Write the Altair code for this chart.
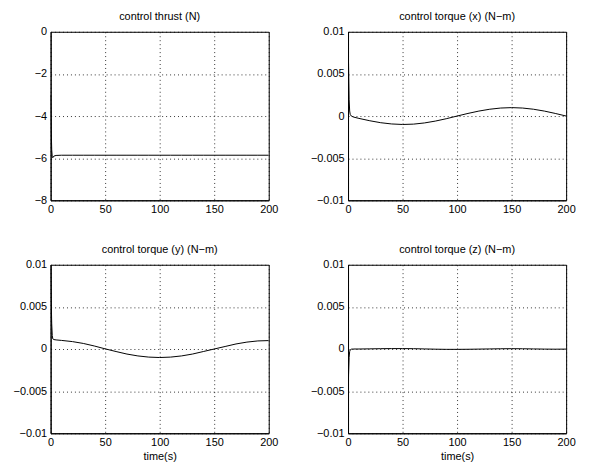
import altair as alt
import pandas as pd

t = [0, 0.5, 1, 1.5, 2, 3, 5, 10, 20, 30, 40, 50, 60, 70, 80, 90, 100,
     110, 120, 130, 140, 150, 160, 170, 180, 190, 200]

thrust = [-3.0, -4.6, -5.6, -5.95, -5.98, -5.9, -5.87, -5.86] + [-5.86] * 19

torque_x = [0.0100, 0.0060, 0.0020, 0.0006, 0.0002, 0.0000, -0.00012, -0.00028,
            -0.00056, -0.00079, -0.00094, -0.00100, -0.00096, -0.00082, -0.00060,
            -0.00032, 0.00000, 0.00031, 0.00059, 0.00081, 0.00095, 0.00100,
            0.00095, 0.00081, 0.00059, 0.00031, 0.00000]

torque_y = [0.0100, 0.0060, 0.0030, 0.0016, 0.0012, 0.00112, 0.00108, 0.00102,
            0.00088, 0.00066, 0.00036, 0.00002, -0.0003, -0.0006, -0.00082,
            -0.00096, -0.00101, -0.00096, -0.00082, -0.0006, -0.0003, 0.0,
            0.0003, 0.0006, 0.00082, 0.00096, 0.001]

torque_z = [-0.006, -0.003, -0.001, -0.0003, -0.0001, -0.00002, 0.0, 0.0,
            0.00002, 0.00004, 0.00005, 0.00005, 0.00004, 0.00001, -0.00002,
            -0.00004, -0.00004, -0.00003, -0.00001, 0.00001, 0.00003, 0.00004,
            0.00003, 0.00001, -0.00001, -0.00002, -0.00001]

x_ticks = [0, 50, 100, 150, 200]
thrust_ticks = [0, -2, -4, -6, -8]
torque_ticks = [0.01, 0.005, 0, -0.005, -0.01]

titles = ["control thrust (N)", "control torque (x) (N\u2212m)",
          "control torque (y) (N\u2212m)", "control torque (z) (N\u2212m)"]

W, H = 220, 170


def panel(vals, title, yticks, ydom, xlabel):
    df = pd.DataFrame({"t": t, "v": vals})
    if xlabel:
        xaxis = alt.Axis(values=x_ticks, title=xlabel, labelFlush=False,
                         labelOverlap=False, labelPadding=3, titlePadding=3)
    else:
        xaxis = alt.Axis(values=x_ticks, title=None, labelFlush=False,
                         labelOverlap=False, labelPadding=3)
    yaxis = alt.Axis(values=yticks, title=None, format="~g",
                     labelFlush=False, labelOverlap=False, labelPadding=4)
    return alt.Chart(df).mark_line(color="black", strokeWidth=1, clip=True).encode(
        x=alt.X("t:Q", scale=alt.Scale(domain=[0, 200], nice=False), axis=xaxis),
        y=alt.Y("v:Q", scale=alt.Scale(domain=ydom, nice=False, zero=False), axis=yaxis),
    ).properties(width=W, height=H, title=title)


p1 = panel(thrust, titles[0], thrust_ticks, [-8, 0], None)
p2 = panel(torque_x, titles[1], torque_ticks, [-0.01, 0.01], None)
p3 = panel(torque_y, titles[2], torque_ticks, [-0.01, 0.01], "time(s)")
p4 = panel(torque_z, titles[3], torque_ticks, [-0.01, 0.01], "time(s)")

chart = alt.concat(p1, p2, p3, p4, columns=2,
                   spacing={"row": 65, "column": 80}, bounds="flush").properties(
    padding={"left": 4, "top": 0, "right": 5, "bottom": 0}
).configure_view(
    stroke="black", strokeWidth=1
).configure_axis(
    labelFont="Liberation Sans", labelFontSize=11, labelColor="black",
    ticks=False, domain=True, domainColor="black", domainWidth=1,
    grid=True, gridColor="black", gridDash=[1, 3], gridWidth=1, gridOpacity=0.8,
    titleFont="Liberation Sans", titleFontSize=11, titleFontWeight="normal",
    titleColor="black"
).configure_title(
    font="Liberation Sans", fontSize=11, fontWeight="normal", color="black",
    offset=4, anchor="middle"
)

chart.save("out.html", embed_options={"renderer": "svg", "actions": False})
